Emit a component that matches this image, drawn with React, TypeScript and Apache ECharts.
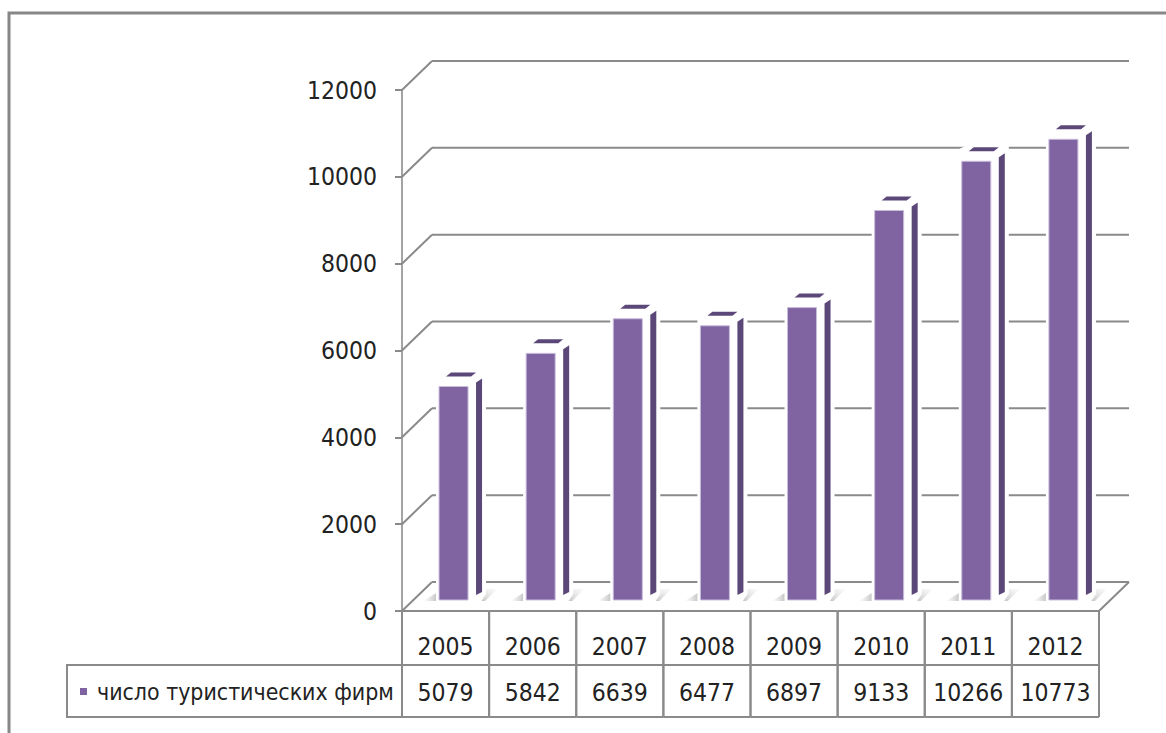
import { useEffect, useRef } from "react";
import * as echarts from "echarts";

// Number of tourist firms by year
const years = ["2005", "2006", "2007", "2008", "2009", "2010", "2011", "2012"];
const firms = [5079, 5842, 6639, 6477, 6897, 9133, 10266, 10773];
const yTicks = [0, 2000, 4000, 6000, 8000, 10000, 12000];
const seriesName = "число туристических фирм";

const FONT = "'DejaVu Sans Condensed', 'Liberation Sans Narrow', sans-serif";
const FS = 24.5; // numbers
const FS_LEGEND = 22.9;
const TEXT = "#222222";
const LINE = "#8a8a8a";
const DX = 30; // depth offset of the back wall
const DY = 29;

export default function App() {
  const ref = useRef<HTMLDivElement>(null);

  useEffect(() => {
    if (!ref.current) return;
    const chart = echarts.init(ref.current, undefined, { renderer: "svg" });

    const renderGrid = (_params: any, api: any) => {
      const v = api.value(1);
      const p = api.coord([0, v]);
      const bw = api.size([1, 0])[0];
      const x0 = p[0] - bw / 2;
      const xEnd = api.coord([years.length - 1, v])[0] + bw / 2;
      const y = p[1];
      const style = { stroke: LINE, lineWidth: 2 };
      const children: any[] = [
        { type: "line", shape: { x1: x0, y1: y, x2: x0 + DX, y2: y - DY }, style },
        { type: "line", shape: { x1: x0 + DX, y1: y - DY, x2: xEnd + DX, y2: y - DY }, style },
      ];
      if (v === 0) {
        children.push({ type: "line", shape: { x1: xEnd, y1: y, x2: xEnd + DX, y2: y - DY }, style });
      }
      return { type: "group", children };
    };

    const renderBar = (_params: any, api: any) => {
      const i = api.value(0);
      const v = api.value(1);
      const base = api.coord([i, 0]);
      const top = api.coord([i, v]);
      const bw = api.size([1, 0])[0];
      const L = base[0] - bw / 2;
      const y0 = base[1];
      const fx = L + bw * 0.425;
      const fw = bw * 0.333;
      const fR = fx + fw;
      const fTop = top[1] - 4;
      const fBot = y0 - 11;
      const sL = fR + 8;
      const sR = fR + 14;
      const dark = "#5b4778";
      const lineStyle = { stroke: LINE, lineWidth: 2 };
      return {
        type: "group",
        children: [
          // floor shadows
          {
            type: "polygon",
            shape: { points: [[fx - 16, fBot + 1], [fx - 1, fBot + 1], [fx - 1, fBot - 8]] },
            style: {
              fill: new echarts.graphic.LinearGradient(0, 0, 1, 0, [
                { offset: 0, color: "rgba(200,200,200,0)" },
                { offset: 1, color: "rgba(170,170,170,0.8)" },
              ]),
            },
          },
          {
            type: "polygon",
            shape: { points: [[fR + 5, fBot + 1], [fR + 19, fBot - 11], [fR + 29, fBot - 11], [fR + 17, fBot + 1]] },
            style: {
              fill: new echarts.graphic.LinearGradient(0, 1, 1, 0, [
                { offset: 0, color: "rgba(160,160,160,0.8)" },
                { offset: 1, color: "rgba(230,230,230,0.2)" },
              ]),
            },
          },
          // white silhouette of the prism
          {
            type: "polygon",
            shape: {
              points: [
                [fx - 3, fBot + 3],
                [fx - 3, fTop - 12],
                [fx + 9, fTop - 18],
                [sR + 4, fTop - 18],
                [sR + 4, fBot - 6],
                [sR - 2, fBot + 3],
              ],
            },
            style: { fill: "#ffffff" },
          },
          // front face
          {
            type: "rect",
            shape: { x: fx, y: fTop, width: fw, height: fBot - fTop },
            style: { fill: "#8064a2", stroke: "#c9bddb", lineWidth: 1 },
          },
          // side face
          {
            type: "polygon",
            shape: { points: [[sL, fTop - 4], [sR, fTop - 8], [sR, fBot - 8], [sL, fBot - 5]] },
            style: { fill: dark },
          },
          // top face
          {
            type: "polygon",
            shape: { points: [[fx + 7, fTop - 10], [fR + 3, fTop - 10], [fR + 8, fTop - 14], [fx + 12, fTop - 14]] },
            style: { fill: dark },
          },
          // data table cell
          { type: "line", shape: { x1: L, y1: y0, x2: L + bw, y2: y0 }, style: lineStyle },
          { type: "line", shape: { x1: L, y1: y0 + 54, x2: L + bw, y2: y0 + 54 }, style: lineStyle },
          { type: "line", shape: { x1: L, y1: y0 + 106, x2: L + bw, y2: y0 + 106 }, style: lineStyle },
          { type: "line", shape: { x1: L, y1: y0, x2: L, y2: y0 + 106 }, style: lineStyle },
          { type: "line", shape: { x1: L + bw, y1: y0, x2: L + bw, y2: y0 + 106 }, style: lineStyle },
          {
            type: "text",
            style: {
              text: String(v),
              x: base[0],
              y: y0 + 81,
              align: "center",
              verticalAlign: "middle",
              fontSize: FS,
              fontFamily: FONT,
              fill: TEXT,
            },
          },
        ],
      };
    };

    chart.setOption({
      animation: false,
      backgroundColor: "#ffffff",
      grid: { left: 402, top: 90, width: 697, height: 521, containLabel: false },
      legend: {
        data: [{ name: seriesName, icon: "rect" }],
        left: 80,
        top: 680,
        padding: 0,
        itemWidth: 7,
        itemHeight: 7,
        selectedMode: false,
        textStyle: { fontSize: FS_LEGEND, fontFamily: FONT, color: TEXT, padding: [0, 0, 0, 5] },
      },
      xAxis: {
        type: "category",
        data: years,
        boundaryGap: true,
        axisLine: { show: false },
        axisTick: { show: false },
        splitLine: { show: false },
        axisLabel: { fontSize: FS, fontFamily: FONT, color: TEXT, margin: 23 },
      },
      yAxis: {
        type: "value",
        min: 0,
        max: 12000,
        interval: 2000,
        axisLine: { show: true, lineStyle: { color: "#a3a3a3", width: 2 } },
        axisTick: { show: true, length: 7, lineStyle: { color: LINE, width: 2 } },
        splitLine: { show: false },
        axisLabel: {
          fontSize: FS,
          fontFamily: FONT,
          color: TEXT,
          margin: 25,
          formatter: (val: number) => String(val),
        },
      },
      graphic: [
        {
          type: "rect",
          shape: { x: 9, y: 13, width: 1300, height: 900 },
          style: { fill: "rgba(0,0,0,0)", stroke: "#878787", lineWidth: 3 },
          silent: true,
        },
        {
          type: "rect",
          shape: { x: 67, y: 665, width: 335, height: 52 },
          style: { fill: "rgba(0,0,0,0)", stroke: LINE, lineWidth: 2 },
          silent: true,
        },
      ],
      series: [
        {
          type: "custom",
          name: "grid",
          silent: true,
          clip: false,
          z: 1,
          encode: { x: 0, y: 1 },
          data: yTicks.map((t) => [0, t]),
          renderItem: renderGrid,
        },
        {
          type: "custom",
          name: seriesName,
          clip: false,
          z: 3,
          itemStyle: { color: "#8064a2" },
          encode: { x: 0, y: 1 },
          data: firms.map((v, i) => [i, v]),
          renderItem: renderBar,
        },
      ],
    });

    return () => chart.dispose();
  }, []);

  return (
    <div
      ref={ref}
      style={{ position: "fixed", left: 0, top: 0, width: 1166, height: 733, background: "#fff" }}
    />
  );
}
